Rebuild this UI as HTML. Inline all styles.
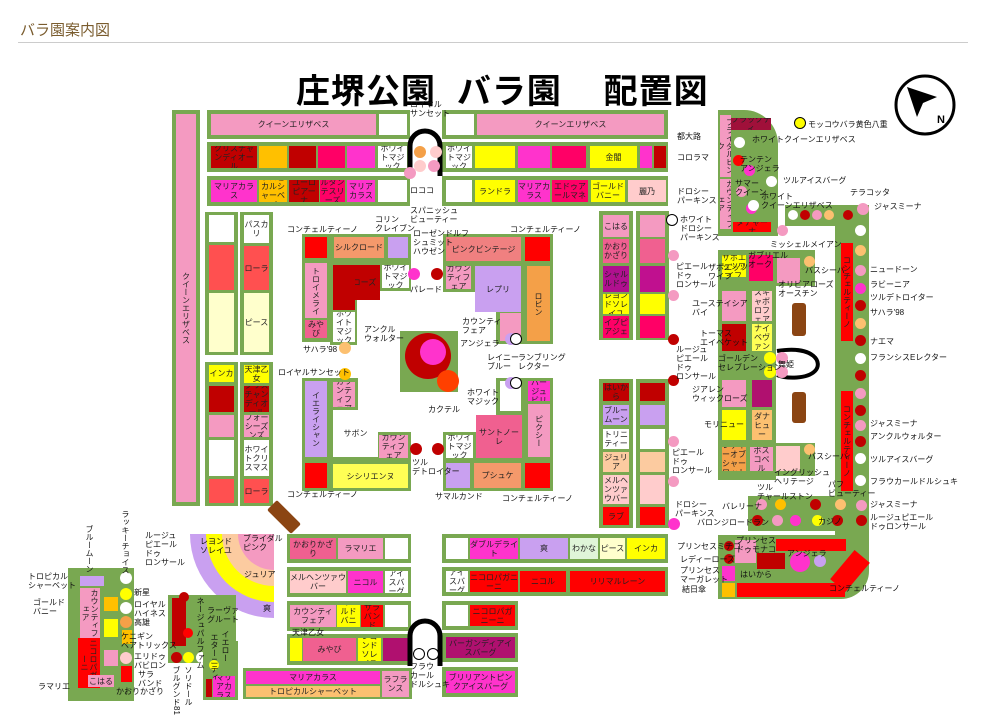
<!DOCTYPE html><html><head><meta charset="utf-8"><style>
body{margin:0;width:987px;height:724px;background:#fff;position:relative;overflow:hidden;font-family:"Liberation Sans","Noto Sans CJK JP",sans-serif}
div{position:absolute;box-sizing:border-box}
.g{background:#79a851}
.b{display:flex;align-items:center;justify-content:center;text-align:center;font-size:8px;line-height:9px;color:#222;overflow:hidden}
.v{writing-mode:vertical-rl}
.t{font-size:8px;line-height:9px;color:#111;white-space:nowrap}
.c{border-radius:50%}
</style></head><body>
<div style="left:20px;top:19px;font-size:15px;color:#7a5c2e">バラ園案内図</div>
<div style="left:18px;top:42px;width:950px;height:1px;background:#ccc"></div>
<div style="left:296px;top:64px;font-size:34px;font-weight:bold;color:#000;white-space:nowrap;letter-spacing:1px">庄堺公園&nbsp; バラ園&nbsp;&nbsp;&nbsp; 配置図</div>
<svg style="position:absolute;left:893px;top:73px" width="64" height="64"><circle cx="32" cy="32" r="29" fill="#fff" stroke="#000" stroke-width="3"/><polygon points="14,14 44,24 30,30 24,44" fill="#000"/><text x="44" y="50" font-size="11" font-weight="bold">N</text></svg>

<!-- left long column -->
<div class="g" style="left:172px;top:110px;width:28px;height:396px"></div>
<div class="b v" style="left:176px;top:114px;width:20px;height:388px;background:#f49ac1">クイーンエリザベス</div>
<!-- top rows -->
<div class="g" style="left:207px;top:110px;width:203px;height:29px"></div>
<div class="b" style="left:211px;top:114px;width:165px;height:21px;background:#f49ac1">クイーンエリザベス</div>
<div class="b" style="left:379px;top:114px;width:28px;height:21px;background:#fff"></div>
<div class="g" style="left:442px;top:110px;width:226px;height:29px"></div>
<div class="b" style="left:446px;top:114px;width:28px;height:21px;background:#fff"></div>
<div class="b" style="left:477px;top:114px;width:187px;height:21px;background:#f49ac1">クイーンエリザベス</div>

<div class="g" style="left:207px;top:142px;width:203px;height:30px"></div>
<div class="b" style="left:211px;top:146px;width:46px;height:22px;background:#c00000">クリスチャンディオール</div>
<div class="b" style="left:259px;top:146px;width:28px;height:22px;background:#ffc000"></div>
<div class="b" style="left:289px;top:146px;width:27px;height:22px;background:#c00000"></div>
<div class="b" style="left:318px;top:146px;width:27px;height:22px;background:#ff0066"></div>
<div class="b" style="left:347px;top:146px;width:28px;height:22px;background:#ff33cc"></div>
<div class="b" style="left:378px;top:146px;width:29px;height:22px;background:#fff">ホワイトマジック</div>
<div class="g" style="left:442px;top:142px;width:226px;height:30px"></div>
<div class="b" style="left:446px;top:146px;width:26px;height:22px;background:#fff">ホワイトマジック</div>
<div class="b" style="left:475px;top:146px;width:40px;height:22px;background:#ffff00"></div>
<div class="b" style="left:518px;top:146px;width:32px;height:22px;background:#ff33cc"></div>
<div class="b" style="left:552px;top:146px;width:34px;height:22px;background:#ff0066"></div>
<div class="b" style="left:590px;top:146px;width:47px;height:22px;background:#ffff00">金閣</div>
<div class="b" style="left:640px;top:146px;width:12px;height:22px;background:#ff33cc"></div>
<div class="b" style="left:654px;top:146px;width:12px;height:22px;background:#c00000"></div>

<div class="g" style="left:207px;top:176px;width:203px;height:30px"></div>
<div class="b" style="left:211px;top:180px;width:46px;height:22px;background:#ff33cc">マリアカラス</div>
<div class="b" style="left:259px;top:180px;width:28px;height:22px;background:#ffc000">トロピカルシャーベット</div>
<div class="b" style="left:289px;top:180px;width:30px;height:22px;background:#c00000">ユーロピアーナ</div>
<div class="b" style="left:320px;top:180px;width:25px;height:22px;background:#ff0066">ルタンテスリーズ</div>
<div class="b" style="left:347px;top:180px;width:28px;height:22px;background:#ff33cc">マリアカラス</div>
<div class="b" style="left:378px;top:180px;width:29px;height:22px;background:#fff"></div>
<div class="g" style="left:442px;top:176px;width:226px;height:30px"></div>
<div class="b" style="left:446px;top:180px;width:26px;height:22px;background:#fff"></div>
<div class="b" style="left:475px;top:180px;width:40px;height:22px;background:#ffff00">ランドラ</div>
<div class="b" style="left:518px;top:180px;width:32px;height:22px;background:#ff33cc">マリアカラス</div>
<div class="b" style="left:552px;top:180px;width:36px;height:22px;background:#ff0066">エドゥアールマネ</div>
<div class="b" style="left:591px;top:180px;width:34px;height:22px;background:#ffff00">ゴールドバニー</div>
<div class="b" style="left:628px;top:180px;width:38px;height:22px;background:#fcc">麗乃</div>

<!-- left double columns -->
<div class="g" style="left:205px;top:212px;width:33px;height:143px"></div>
<div class="b" style="left:209px;top:215px;width:25px;height:27px;background:#fff"></div>
<div class="b" style="left:209px;top:245px;width:25px;height:45px;background:#ff5050"></div>
<div class="b" style="left:209px;top:293px;width:25px;height:59px;background:#ffffcc"></div>
<div class="g" style="left:240px;top:212px;width:33px;height:143px"></div>
<div class="b" style="left:244px;top:215px;width:25px;height:28px;background:#fff">パスカリ</div>
<div class="b" style="left:244px;top:246px;width:25px;height:44px;background:#ff5050">ローラ</div>
<div class="b" style="left:244px;top:293px;width:25px;height:59px;background:#ffffcc">ピース</div>
<div class="g" style="left:205px;top:362px;width:33px;height:144px"></div>
<div class="b" style="left:209px;top:365px;width:25px;height:17px;background:#ffff00">インカ</div>
<div class="b" style="left:209px;top:386px;width:25px;height:26px;background:#c00000"></div>
<div class="b" style="left:209px;top:415px;width:25px;height:22px;background:#f49ac1"></div>
<div class="b" style="left:209px;top:440px;width:25px;height:36px;background:#fff"></div>
<div class="b" style="left:209px;top:479px;width:25px;height:24px;background:#ff5050"></div>
<div class="g" style="left:240px;top:362px;width:33px;height:144px"></div>
<div class="b" style="left:244px;top:365px;width:25px;height:18px;background:#ffff00">天津乙女</div>
<div class="b" style="left:244px;top:386px;width:25px;height:26px;background:#c00000">クリスチャンディオール</div>
<div class="b" style="left:244px;top:415px;width:25px;height:22px;background:#f49ac1">フォーシーズンズ</div>
<div class="b" style="left:244px;top:440px;width:25px;height:36px;background:#fff">ホワイトクリスマス</div>
<div class="b" style="left:244px;top:479px;width:25px;height:24px;background:#ff5050">ローラ</div>

<!-- center top-left -->
<div class="g" style="left:302px;top:234px;width:109px;height:27px"></div>
<div class="g" style="left:302px;top:234px;width:29px;height:108px"></div>
<div class="g" style="left:330px;top:260px;width:81px;height:31px"></div>
<div class="g" style="left:330px;top:260px;width:27px;height:85px"></div>
<div class="b" style="left:305px;top:237px;width:22px;height:21px;background:#ff0000"></div>
<div class="b" style="left:334px;top:237px;width:50px;height:21px;background:#f4996b">シルクロード</div>
<div class="b" style="left:388px;top:237px;width:20px;height:21px;background:#c9a0f0"></div>
<div class="b v" style="left:305px;top:263px;width:22px;height:55px;background:#f49ac1">トロイメライ</div>
<div class="b" style="left:305px;top:320px;width:22px;height:18px;background:#f06090">みやび</div>
<div class="b" style="left:333px;top:265px;width:47px;height:35px;background:#c00000">マイローズ</div>
<div class="b" style="left:333px;top:265px;width:22px;height:45px;background:#c00000"></div>
<div class="b" style="left:382px;top:265px;width:27px;height:23px;background:#fff">ホワイトマジック</div>
<div class="b" style="left:333px;top:312px;width:22px;height:30px;background:#fff">ホワイトマジック</div>
<!-- center top-right -->
<div class="g" style="left:443px;top:234px;width:110px;height:28px"></div>
<div class="g" style="left:443px;top:262px;width:110px;height:30px"></div>
<div class="g" style="left:496px;top:262px;width:57px;height:82px"></div>
<div class="b" style="left:446px;top:237px;width:75px;height:24px;background:#f08080">ピンクビンテージ</div>
<div class="b" style="left:525px;top:237px;width:25px;height:24px;background:#ff0000"></div>
<div class="b" style="left:446px;top:266px;width:25px;height:23px;background:#f49ac1">カウンティフェア</div>
<div class="b" style="left:475px;top:266px;width:46px;height:46px;background:#c9a0f0">レプリ</div>
<div class="b" style="left:500px;top:313px;width:21px;height:28px;background:#f49ac1"></div>
<div class="b v" style="left:527px;top:266px;width:23px;height:75px;background:#f4a048">ロビン</div>
<!-- center circle -->
<div class="g" style="left:400px;top:331px;width:58px;height:61px"></div>
<div class="c" style="left:405px;top:333px;width:46px;height:46px;background:#c00000"></div>
<div class="c" style="left:420px;top:339px;width:26px;height:26px;background:#ff33cc"></div>
<div class="c" style="left:437px;top:370px;width:22px;height:22px;background:#ff4000"></div>
<!-- center bottom-left -->
<div class="g" style="left:302px;top:378px;width:29px;height:113px"></div>
<div class="g" style="left:302px;top:460px;width:109px;height:31px"></div>
<div class="g" style="left:330px;top:378px;width:28px;height:85px"></div>
<div class="g" style="left:330px;top:432px;width:81px;height:30px"></div>
<div class="b v" style="left:305px;top:381px;width:22px;height:76px;background:#c9a0f0">イエライシャン</div>
<div class="b" style="left:333px;top:382px;width:22px;height:25px;background:#f49ac1">カウンティフェア</div>
<div class="b" style="left:333px;top:410px;width:45px;height:47px;background:#fff">サボン</div>
<div class="b" style="left:379px;top:435px;width:29px;height:23px;background:#f49ac1">カウンティフェア</div>
<div class="b" style="left:305px;top:463px;width:22px;height:25px;background:#ff0000"></div>
<div class="b" style="left:333px;top:464px;width:75px;height:24px;background:#ffff55">シシリエンヌ</div>
<!-- center bottom-right -->
<div class="g" style="left:443px;top:432px;width:110px;height:59px"></div>
<div class="g" style="left:496px;top:378px;width:57px;height:60px"></div>
<div class="b" style="left:446px;top:435px;width:27px;height:23px;background:#fff">ホワイトマジック</div>
<div class="b" style="left:500px;top:381px;width:21px;height:30px;background:#fff"></div>
<div class="b" style="left:476px;top:415px;width:46px;height:43px;background:#f06090">サントノーレ</div>
<div class="b" style="left:528px;top:381px;width:22px;height:20px;background:#ff33cc">シルバージュビリー</div>
<div class="b v" style="left:528px;top:404px;width:22px;height:53px;background:#f49ac1">ピクシー</div>
<div class="b" style="left:446px;top:463px;width:24px;height:25px;background:#c9a0f0"></div>
<div class="b" style="left:474px;top:463px;width:47px;height:25px;background:#f4996b">プシュケ</div>
<div class="b" style="left:525px;top:463px;width:25px;height:25px;background:#ff0000"></div>

<!-- mid-right columns -->
<div class="g" style="left:599px;top:211px;width:34px;height:129px"></div>
<div class="b" style="left:603px;top:215px;width:26px;height:22px;background:#f49ac1">こはる</div>
<div class="b" style="left:603px;top:239px;width:26px;height:24px;background:#f06090">かおりかざり</div>
<div class="b" style="left:603px;top:266px;width:26px;height:26px;background:#b0108f">シャルルドゥ</div>
<div class="b" style="left:603px;top:294px;width:26px;height:20px;background:#ffff00">レヨンドソレイユ</div>
<div class="b" style="left:603px;top:316px;width:26px;height:22px;background:#ff0066">イブピアジェ</div>
<div class="g" style="left:636px;top:211px;width:33px;height:129px"></div>
<div class="b" style="left:640px;top:215px;width:25px;height:22px;background:#f49ac1"></div>
<div class="b" style="left:640px;top:239px;width:25px;height:24px;background:#f06090"></div>
<div class="b" style="left:640px;top:266px;width:25px;height:26px;background:#c0108f"></div>
<div class="b" style="left:640px;top:294px;width:25px;height:20px;background:#ffff00"></div>
<div class="b" style="left:640px;top:316px;width:25px;height:22px;background:#ff0066"></div>
<div class="g" style="left:599px;top:379px;width:34px;height:149px"></div>
<div class="b" style="left:603px;top:383px;width:26px;height:18px;background:#c00000">はいから</div>
<div class="b" style="left:603px;top:405px;width:26px;height:20px;background:#c9a0f0">ブルームーン</div>
<div class="b" style="left:603px;top:429px;width:26px;height:20px;background:#fff">トリニティー</div>
<div class="b" style="left:603px;top:452px;width:26px;height:20px;background:#fccba0">ジュリア</div>
<div class="b" style="left:603px;top:475px;width:26px;height:29px;background:#fcc">メルヘンツァウバー</div>
<div class="b" style="left:603px;top:507px;width:26px;height:18px;background:#ff0000">ラブ</div>
<div class="g" style="left:636px;top:379px;width:33px;height:149px"></div>
<div class="b" style="left:640px;top:383px;width:25px;height:18px;background:#c00000"></div>
<div class="b" style="left:640px;top:405px;width:25px;height:20px;background:#c9a0f0"></div>
<div class="b" style="left:640px;top:429px;width:25px;height:20px;background:#fff"></div>
<div class="b" style="left:640px;top:452px;width:25px;height:20px;background:#fccba0"></div>
<div class="b" style="left:640px;top:475px;width:25px;height:29px;background:#fcc"></div>
<div class="b" style="left:640px;top:507px;width:25px;height:18px;background:#ff0000"></div>

<!-- right area -->
<div class="g" style="left:718px;top:110px;width:60px;height:126px;border-top-right-radius:34px"></div>
<div class="b v" style="left:720px;top:115px;width:11px;height:62px;background:#f49ac1">ブライダルピンク</div>
<div class="b v" style="left:720px;top:179px;width:11px;height:50px;background:#f49ac1">カウンティフェア</div>
<div class="b" style="left:731px;top:118px;width:40px;height:12px;background:#a0103a">ブラックティ</div>
<div class="b" style="left:733px;top:222px;width:38px;height:10px;background:#ff0000">タチャーナ</div>
<div class="g" style="left:785px;top:205px;width:84px;height:21px"></div>
<div class="g" style="left:835px;top:205px;width:34px;height:330px"></div>
<div class="b v" style="left:841px;top:243px;width:12px;height:98px;background:#ff0000">コンチェルティーノ</div>
<div class="b v" style="left:841px;top:391px;width:12px;height:100px;background:#ff0000">コンチェルティーノ</div>
<div class="g" style="left:718px;top:250px;width:97px;height:36px"></div>
<div class="g" style="left:718px;top:280px;width:58px;height:200px"></div>
<div class="g" style="left:718px;top:443px;width:97px;height:33px"></div>
<div class="b" style="left:722px;top:255px;width:24px;height:22px;background:#ffff00">ザポエッツワイフ</div>
<div class="b" style="left:749px;top:255px;width:24px;height:26px;background:#ff0066"></div>
<div class="b" style="left:777px;top:258px;width:23px;height:25px;background:#f49ac1"></div>
<div class="b" style="left:722px;top:291px;width:24px;height:30px;background:#f49ac1"></div>
<div class="b" style="left:752px;top:291px;width:20px;height:30px;background:#fcc">スキャボロフェア</div>
<div class="b" style="left:722px;top:324px;width:24px;height:27px;background:#c00000"></div>
<div class="b" style="left:752px;top:324px;width:20px;height:27px;background:#ffff55">ナイベヴァン</div>
<div class="b" style="left:722px;top:380px;width:24px;height:27px;background:#f49ac1"></div>
<div class="b" style="left:752px;top:380px;width:20px;height:27px;background:#b0106f"></div>
<div class="b" style="left:722px;top:410px;width:24px;height:30px;background:#ffff00"></div>
<div class="b" style="left:752px;top:410px;width:20px;height:30px;background:#fcc070">ダナヒュー</div>
<div class="b" style="left:722px;top:447px;width:24px;height:24px;background:#f4a048">レディーオブシャーロット</div>
<div class="b" style="left:750px;top:447px;width:23px;height:24px;background:#f49ac1">ボスコベル</div>
<div class="b" style="left:776px;top:446px;width:24px;height:25px;background:#fcc"></div>
<div style="left:792px;top:303px;width:14px;height:33px;background:#8b4513;border-radius:3px"></div>
<div style="left:792px;top:392px;width:14px;height:31px;background:#8b4513;border-radius:3px"></div>
<div class="g" style="left:748px;top:496px;width:121px;height:35px"></div>
<div class="g" style="left:718px;top:535px;width:151px;height:64px;border-bottom-right-radius:28px"></div>
<div class="b" style="left:735px;top:540px;width:21px;height:23px;background:#f49ac1"></div>
<div class="b" style="left:776px;top:539px;width:70px;height:12px;background:#ff0000"></div>
<div class="b" style="left:757px;top:553px;width:28px;height:16px;background:#c00000"></div>
<div class="c" style="left:790px;top:552px;width:20px;height:20px;background:#ff33cc"></div>
<div class="c" style="left:814px;top:555px;width:12px;height:12px;background:#c9a0f0"></div>
<div style="left:840px;top:552px;width:20px;height:38px;background:#ff0000;transform:rotate(40deg)"></div>
<div class="b" style="left:722px;top:566px;width:13px;height:15px;background:#ff33cc"></div>
<div class="b" style="left:722px;top:583px;width:13px;height:14px;background:#ffc000"></div>
<div class="b" style="left:737px;top:583px;width:108px;height:14px;background:#ff0000"></div>

<!-- bottom middle -->
<div class="g" style="left:442px;top:534px;width:226px;height:29px"></div>
<div class="b" style="left:446px;top:538px;width:22px;height:21px;background:#fff"></div>
<div class="b" style="left:470px;top:538px;width:48px;height:21px;background:#ff33cc">ダブルデライト</div>
<div class="b" style="left:520px;top:538px;width:48px;height:21px;background:#c9a0f0">爽</div>
<div class="b" style="left:570px;top:538px;width:28px;height:21px;background:#dff5d8">わかな</div>
<div class="b" style="left:600px;top:538px;width:25px;height:21px;background:#ffffcc">ピース</div>
<div class="b" style="left:627px;top:538px;width:38px;height:21px;background:#ffff00">インカ</div>
<div class="g" style="left:442px;top:567px;width:226px;height:29px"></div>
<div class="b" style="left:446px;top:571px;width:22px;height:21px;background:#fff">アイスバーグ</div>
<div class="b" style="left:470px;top:571px;width:48px;height:21px;background:#ff0000">ニコロパガニーニ</div>
<div class="b" style="left:520px;top:571px;width:46px;height:21px;background:#ff0000">ニコル</div>
<div class="b" style="left:570px;top:571px;width:95px;height:21px;background:#ff0000">リリマルレーン</div>
<div class="g" style="left:442px;top:601px;width:76px;height:29px"></div>
<div class="b" style="left:446px;top:605px;width:22px;height:21px;background:#fff"></div>
<div class="b" style="left:470px;top:605px;width:45px;height:21px;background:#ff0000">ニコロパガニーニ</div>
<div class="g" style="left:442px;top:633px;width:76px;height:29px"></div>
<div class="b" style="left:446px;top:637px;width:69px;height:21px;background:#b0106f">バーガンディアイスバーグ</div>
<div class="g" style="left:442px;top:667px;width:76px;height:30px"></div>
<div class="b" style="left:446px;top:671px;width:69px;height:22px;background:#ff33cc">ブリリアントピンクアイスバーグ</div>

<div class="g" style="left:287px;top:534px;width:124px;height:29px"></div>
<div class="b" style="left:290px;top:538px;width:46px;height:21px;background:#f06090">かおりかざり</div>
<div class="b" style="left:338px;top:538px;width:45px;height:21px;background:#f49ac1">ラマリエ</div>
<div class="b" style="left:385px;top:538px;width:23px;height:21px;background:#fff"></div>
<div class="g" style="left:287px;top:567px;width:124px;height:30px"></div>
<div class="b" style="left:290px;top:571px;width:56px;height:22px;background:#fcc">メルヘンツァウバー</div>
<div class="b" style="left:348px;top:571px;width:35px;height:22px;background:#ff33cc">ニコル</div>
<div class="b" style="left:385px;top:571px;width:23px;height:22px;background:#fff">アイスバーグ</div>
<div class="g" style="left:287px;top:601px;width:124px;height:30px"></div>
<div class="b" style="left:290px;top:605px;width:46px;height:22px;background:#f49ac1">カウンティフェア</div>
<div class="b" style="left:337px;top:605px;width:23px;height:22px;background:#ffff00">ゴールドバニー</div>
<div class="b" style="left:361px;top:605px;width:22px;height:22px;background:#ff0000">サラバンド</div>
<div class="b" style="left:385px;top:605px;width:23px;height:22px;background:#fff"></div>
<div class="g" style="left:287px;top:634px;width:124px;height:31px"></div>
<div class="b" style="left:290px;top:638px;width:12px;height:23px;background:#ffff00"></div>
<div class="b" style="left:303px;top:638px;width:53px;height:23px;background:#f06090">みやび</div>
<div class="b" style="left:358px;top:638px;width:23px;height:23px;background:#ffff00">レヨンドソレイユ</div>
<div class="b" style="left:383px;top:638px;width:25px;height:23px;background:#b0106f"></div>
<div class="g" style="left:243px;top:668px;width:169px;height:31px"></div>
<div class="b" style="left:246px;top:671px;width:134px;height:13px;background:#ff33cc">マリアカラス</div>
<div class="b" style="left:246px;top:686px;width:134px;height:11px;background:#fcc070">トロピカルシャーベット</div>
<div class="b" style="left:382px;top:671px;width:27px;height:26px;background:#f49ac1">ラフランス</div>

<!-- fan -->
<svg style="position:absolute;left:190px;top:530px" width="90" height="90">
<path d="M84,4 L84,88 A84,84 0 0 1 0,4 Z" fill="#c9a0f0"/>
<path d="M84,4 L84,72 A68,68 0 0 1 16,4 Z" fill="#ffff00"/>
<path d="M84,4 L84,56 A52,52 0 0 1 32,4 Z" fill="#fccba0"/>
<path d="M84,4 L84,40 A36,36 0 0 1 48,4 Z" fill="#f49ac1"/>
</svg>
<div style="left:267px;top:510px;width:34px;height:14px;background:#8b4513;transform:rotate(45deg);border-radius:2px"></div>

<!-- left bottom -->
<div class="g" style="left:68px;top:568px;width:66px;height:133px"></div>
<div class="b" style="left:80px;top:576px;width:24px;height:10px;background:#c9a0f0"></div>
<div class="b v" style="left:80px;top:588px;width:20px;height:50px;background:#f49ac1">カウンティフェア</div>
<div class="b v" style="left:78px;top:638px;width:22px;height:50px;background:#ff0000">ニコロパガニーニ</div>
<div class="b" style="left:88px;top:675px;width:26px;height:12px;background:#f49ac1">こはる</div>
<div class="b" style="left:104px;top:597px;width:14px;height:14px;background:#ffc000"></div>
<div class="b" style="left:104px;top:619px;width:14px;height:18px;background:#ffff00"></div>
<div class="b" style="left:104px;top:650px;width:14px;height:16px;background:#f49ac1"></div>
<div class="c" style="left:120px;top:572px;width:12px;height:12px;background:#fff"></div>
<div class="c" style="left:120px;top:588px;width:12px;height:12px;background:#ffff00"></div>
<div class="c" style="left:120px;top:602px;width:12px;height:12px;background:#fff"></div>
<div class="c" style="left:120px;top:616px;width:12px;height:12px;background:#f4a048"></div>
<div class="b" style="left:122px;top:630px;width:10px;height:14px;background:#ffc000"></div>
<div class="c" style="left:120px;top:652px;width:12px;height:12px;background:#fcc"></div>
<div class="b" style="left:121px;top:666px;width:11px;height:16px;background:#ff0000"></div>
<div class="g" style="left:168px;top:595px;width:68px;height:68px"></div>
<div class="b v" style="left:172px;top:598px;width:14px;height:48px;background:#c00000"></div>
<div class="c" style="left:171px;top:652px;width:11px;height:11px;background:#c00000"></div>
<div class="c" style="left:183px;top:652px;width:11px;height:11px;background:#ffff00"></div>
<div class="c" style="left:196px;top:652px;width:11px;height:11px;background:#fff"></div>
<div class="g" style="left:203px;top:641px;width:35px;height:59px"></div>
<div class="b" style="left:213px;top:676px;width:22px;height:21px;background:#ff33cc">マリアカラス</div>
<div class="b" style="left:206px;top:679px;width:6px;height:18px;background:#c00000"></div>

<!-- arches -->
<svg style="position:absolute;left:405px;top:118px" width="40" height="60"><path d="M5,58 L5,28 A15,15 0 0 1 35,28 L35,58" fill="none" stroke="#000" stroke-width="5"/></svg>
<svg style="position:absolute;left:405px;top:608px" width="40" height="60"><path d="M5,58 L5,28 A15,15 0 0 1 35,28 L35,58" fill="none" stroke="#000" stroke-width="5"/></svg>
<svg style="position:absolute;left:775px;top:345px" width="50" height="38"><path d="M2,6 C40,0 48,18 40,26 C32,34 12,34 2,30" fill="none" stroke="#000" stroke-width="4"/></svg>

<!-- scattered circles -->
<div class="c" style="left:414px;top:146px;width:12px;height:12px;background:#f4a048"></div>
<div class="c" style="left:430px;top:146px;width:12px;height:12px;background:#fcc"></div>
<div class="c" style="left:414px;top:160px;width:12px;height:12px;background:#fcc"></div>
<div class="c" style="left:428px;top:160px;width:12px;height:12px;background:#f49ac1"></div>
<div class="c" style="left:404px;top:167px;width:12px;height:12px;background:#f49ac1"></div>
<div class="c" style="left:408px;top:268px;width:12px;height:12px;background:#ff33cc"></div>
<div class="c" style="left:431px;top:268px;width:12px;height:12px;background:#c00000"></div>
<div class="c" style="left:339px;top:342px;width:12px;height:12px;background:#fcc070"></div>
<div class="c" style="left:339px;top:368px;width:12px;height:12px;background:#ffc000"></div>
<div class="c" style="left:505px;top:333px;width:12px;height:12px;background:#c9a0f0"></div>
<div class="c" style="left:510px;top:333px;width:12px;height:12px;background:#fff;border:1.5px solid #000"></div>
<div class="c" style="left:505px;top:377px;width:12px;height:12px;background:#c9a0f0"></div>
<div class="c" style="left:510px;top:377px;width:12px;height:12px;background:#fff;border:1.5px solid #000"></div>
<div class="c" style="left:410px;top:443px;width:12px;height:12px;background:#c00000"></div>
<div class="c" style="left:432px;top:443px;width:12px;height:12px;background:#c00000"></div>
<div class="c" style="left:666px;top:214px;width:12px;height:12px;background:#fff;border:1.5px solid #000"></div>
<div class="c" style="left:668px;top:250px;width:11px;height:11px;background:#f49ac1"></div>
<div class="c" style="left:668px;top:290px;width:11px;height:11px;background:#f49ac1"></div>
<div class="c" style="left:668px;top:334px;width:11px;height:11px;background:#c00000"></div>
<div class="c" style="left:668px;top:375px;width:11px;height:11px;background:#c00000"></div>
<div class="c" style="left:668px;top:436px;width:11px;height:11px;background:#f49ac1"></div>
<div class="c" style="left:668px;top:476px;width:11px;height:11px;background:#f49ac1"></div>
<div class="c" style="left:668px;top:518px;width:12px;height:12px;background:#ff33cc"></div>
<div class="c" style="left:794px;top:117px;width:12px;height:12px;background:#ffff00;border:1.5px solid #000"></div>
<div class="c" style="left:734px;top:137px;width:11px;height:11px;background:#fff"></div>
<div class="c" style="left:733px;top:155px;width:11px;height:11px;background:#ff0000"></div>
<div class="c" style="left:744px;top:165px;width:11px;height:11px;background:#ff33cc"></div>
<div class="c" style="left:766px;top:176px;width:11px;height:11px;background:#fff"></div>
<div class="c" style="left:736px;top:186px;width:11px;height:11px;background:#f49ac1"></div>
<div class="c" style="left:746px;top:203px;width:11px;height:11px;background:#ff33cc"></div>
<div class="c" style="left:748px;top:200px;width:11px;height:11px;background:#fff"></div>
<div class="c" style="left:777px;top:225px;width:11px;height:11px;background:#f49ac1"></div>
<div class="c" style="left:788px;top:210px;width:10px;height:10px;background:#fff"></div>
<div class="c" style="left:800px;top:210px;width:10px;height:10px;background:#c00000"></div>
<div class="c" style="left:812px;top:210px;width:10px;height:10px;background:#f49ac1"></div>
<div class="c" style="left:824px;top:210px;width:10px;height:10px;background:#fcc070"></div>
<div class="c" style="left:843px;top:210px;width:10px;height:10px;background:#c00000"></div>
<div class="c" style="left:857px;top:203px;width:12px;height:12px;background:#f49ac1"></div>
<div class="c" style="left:855px;top:225px;width:11px;height:11px;background:#fff"></div>
<div class="c" style="left:855px;top:245px;width:11px;height:11px;background:#fcc070"></div>
<div class="c" style="left:855px;top:265px;width:11px;height:11px;background:#f49ac1"></div>
<div class="c" style="left:855px;top:283px;width:11px;height:11px;background:#ff33cc"></div>
<div class="c" style="left:855px;top:300px;width:11px;height:11px;background:#c00000"></div>
<div class="c" style="left:855px;top:318px;width:11px;height:11px;background:#fcc070"></div>
<div class="c" style="left:855px;top:335px;width:11px;height:11px;background:#c00000"></div>
<div class="c" style="left:855px;top:353px;width:11px;height:11px;background:#fff"></div>
<div class="c" style="left:855px;top:370px;width:11px;height:11px;background:#c00000"></div>
<div class="c" style="left:855px;top:388px;width:11px;height:11px;background:#f49ac1"></div>
<div class="c" style="left:855px;top:405px;width:11px;height:11px;background:#c00000"></div>
<div class="c" style="left:855px;top:420px;width:11px;height:11px;background:#f49ac1"></div>
<div class="c" style="left:855px;top:436px;width:11px;height:11px;background:#c00000"></div>
<div class="c" style="left:855px;top:453px;width:11px;height:11px;background:#fff"></div>
<div class="c" style="left:855px;top:475px;width:11px;height:11px;background:#fff"></div>
<div class="c" style="left:856px;top:500px;width:11px;height:11px;background:#f49ac1"></div>
<div class="c" style="left:856px;top:515px;width:11px;height:11px;background:#c00000"></div>
<div class="c" style="left:756px;top:499px;width:11px;height:11px;background:#f49ac1"></div>
<div class="c" style="left:775px;top:499px;width:11px;height:11px;background:#ffc000"></div>
<div class="c" style="left:810px;top:499px;width:11px;height:11px;background:#c00000"></div>
<div class="c" style="left:835px;top:499px;width:11px;height:11px;background:#fcc070"></div>
<div class="c" style="left:752px;top:515px;width:11px;height:11px;background:#c00000"></div>
<div class="c" style="left:772px;top:515px;width:11px;height:11px;background:#f49ac1"></div>
<div class="c" style="left:790px;top:515px;width:11px;height:11px;background:#ff33cc"></div>
<div class="c" style="left:812px;top:515px;width:11px;height:11px;background:#ffff00"></div>
<div class="c" style="left:832px;top:515px;width:11px;height:11px;background:#c00000"></div>
<div class="c" style="left:764px;top:352px;width:12px;height:12px;background:#ffff00"></div>
<div class="c" style="left:776px;top:352px;width:12px;height:12px;background:#f49ac1"></div>
<div class="c" style="left:764px;top:366px;width:12px;height:12px;background:#ffff00"></div>
<div class="c" style="left:776px;top:366px;width:12px;height:12px;background:#f49ac1"></div>
<div class="c" style="left:804px;top:256px;width:11px;height:11px;background:#fcc070"></div>
<div class="c" style="left:804px;top:444px;width:11px;height:11px;background:#fcc070"></div>
<div class="c" style="left:724px;top:541px;width:10px;height:10px;background:#c00000"></div>
<div class="c" style="left:724px;top:554px;width:10px;height:10px;background:#c00000"></div>
<div class="c" style="left:183px;top:628px;width:10px;height:10px;background:#ff0000"></div>
<div class="c" style="left:179px;top:592px;width:10px;height:10px;background:#c00000"></div>
<div class="c" style="left:209px;top:660px;width:10px;height:10px;background:#ffff00"></div>
<div class="c" style="left:413px;top:648px;width:12px;height:12px;background:#fff;border:1.5px solid #000"></div>
<div class="c" style="left:427px;top:648px;width:12px;height:12px;background:#fff;border:1.5px solid #000"></div>

<!-- labels -->
<div class="t" style="left:410px;top:100px">ロイヤル<br>サンセット</div>
<div class="t" style="left:410px;top:186px">ロココ</div>
<div class="t" style="left:410px;top:206px">スパニッシュ<br>ビューティー</div>
<div class="t" style="left:375px;top:215px">コリン<br>クレイブン</div>
<div class="t" style="left:287px;top:225px">コンチェルティーノ</div>
<div class="t" style="left:510px;top:225px">コンチェルティーノ</div>
<div class="t" style="left:413px;top:229px">ローゼンドルフ<br>シュミット<br>ハウゼン</div>
<div class="t" style="left:410px;top:285px">パレード</div>
<div class="t" style="left:364px;top:325px">アンクル<br>ウォルター</div>
<div class="t" style="left:460px;top:339px">アンジェラ</div>
<div class="t" style="left:462px;top:317px">カウンティ<br>フェア</div>
<div class="t" style="left:487px;top:353px">レイニー<br>ブルー</div>
<div class="t" style="left:518px;top:353px">ランブリング<br>レクター</div>
<div class="t" style="left:303px;top:345px">サハラ'98</div>
<div class="t" style="left:278px;top:368px">ロイヤルサンセット</div>
<div class="t" style="left:428px;top:405px">カクテル</div>
<div class="t" style="left:467px;top:388px">ホワイト<br>マジック</div>
<div class="t" style="left:412px;top:458px">ツル<br>デトロイター</div>
<div class="t" style="left:287px;top:490px">コンチェルティーノ</div>
<div class="t" style="left:435px;top:492px">サマルカンド</div>
<div class="t" style="left:502px;top:494px">コンチェルティーノ</div>
<div class="t" style="left:677px;top:132px">都大路</div>
<div class="t" style="left:677px;top:153px">コロラマ</div>
<div class="t" style="left:677px;top:187px">ドロシー<br>パーキンス</div>
<div class="t" style="left:680px;top:215px">ホワイト<br>ドロシー<br>パーキンス</div>
<div class="t" style="left:808px;top:120px">モッコウバラ黄色八重</div>
<div class="t" style="left:752px;top:135px">ホワイトクイーンエリザベス</div>
<div class="t" style="left:740px;top:155px">テンテン<br>アンジェラ</div>
<div class="t" style="left:783px;top:176px">ツルアイスバーグ</div>
<div class="t" style="left:735px;top:179px">サマー<br>クイーン</div>
<div class="t" style="left:761px;top:192px">ホワイト<br>クイーンエリザベス</div>
<div class="t" style="left:850px;top:188px">テラコッタ</div>
<div class="t" style="left:874px;top:202px">ジャスミーナ</div>
<div class="t" style="left:770px;top:240px">ミッシェルメイアン</div>
<div class="t" style="left:748px;top:251px">ガブリエル<br>オーク</div>
<div class="t" style="left:805px;top:266px">バスシーバ</div>
<div class="t" style="left:778px;top:280px">オリビアローズ<br>オースチン</div>
<div class="t" style="left:708px;top:263px">ザポエッツ<br>ワイフ</div>
<div class="t" style="left:692px;top:299px">ユーステイシア<br>バイ</div>
<div class="t" style="left:700px;top:329px">トーマス<br>エイベケット</div>
<div class="t" style="left:718px;top:354px">ゴールデン<br>セレブレーション</div>
<div class="t" style="left:778px;top:360px">舞姫</div>
<div class="t" style="left:676px;top:262px">ピエール<br>ドゥ<br>ロンサール</div>
<div class="t" style="left:676px;top:345px">ルージュ<br>ピエール<br>ドゥ<br>ロンサール</div>
<div class="t" style="left:692px;top:385px">ジアレン<br>ウィックローズ</div>
<div class="t" style="left:704px;top:420px">モリニュー</div>
<div class="t" style="left:672px;top:448px">ピエール<br>ドゥ<br>ロンサール</div>
<div class="t" style="left:675px;top:500px">ドロシー<br>パーキンス</div>
<div class="t" style="left:808px;top:452px">バスシーバ</div>
<div class="t" style="left:774px;top:468px">イングリッシュ<br>ヘリテージ</div>
<div class="t" style="left:757px;top:483px">ツル<br>チャールストン</div>
<div class="t" style="left:828px;top:480px">パフ<br>ビューティー</div>
<div class="t" style="left:722px;top:502px">バレリーナ</div>
<div class="t" style="left:697px;top:518px">バロンジロードラン</div>
<div class="t" style="left:818px;top:517px">カジノ</div>
<div class="t" style="left:677px;top:542px">プリンセスミチコ</div>
<div class="t" style="left:736px;top:536px">プリンセス<br>ドゥモナコ</div>
<div class="t" style="left:787px;top:549px">アンジェラ</div>
<div class="t" style="left:680px;top:555px">レディーローズ</div>
<div class="t" style="left:680px;top:566px">プリンセス<br>マーガレット</div>
<div class="t" style="left:740px;top:570px">はいから</div>
<div class="t" style="left:682px;top:585px">結日傘</div>
<div class="t" style="left:829px;top:584px">コンチェルティーノ</div>
<div class="t" style="left:870px;top:265px">ニュードーン</div>
<div class="t" style="left:870px;top:280px">ラビーニア</div>
<div class="t" style="left:870px;top:293px">ツルデトロイター</div>
<div class="t" style="left:870px;top:308px">サハラ'98</div>
<div class="t" style="left:870px;top:337px">ナエマ</div>
<div class="t" style="left:870px;top:353px">フランシスEレクター</div>
<div class="t" style="left:870px;top:419px">ジャスミーナ</div>
<div class="t" style="left:870px;top:432px">アンクルウォルター</div>
<div class="t" style="left:870px;top:455px">ツルアイスバーグ</div>
<div class="t" style="left:870px;top:477px">フラウカールドルシュキ</div>
<div class="t" style="left:870px;top:500px">ジャスミーナ</div>
<div class="t" style="left:870px;top:513px">ルージュピエール<br>ドゥロンサール</div>
<div class="t v" style="left:85px;top:525px">ブルームーン</div>
<div class="t v" style="left:121px;top:510px">ラッキーチョイス</div>
<div class="t" style="left:28px;top:572px">トロピカル<br>シャーベット</div>
<div class="t" style="left:33px;top:598px">ゴールド<br>バニー</div>
<div class="t" style="left:38px;top:682px">ラマリエ</div>
<div class="t" style="left:134px;top:588px">新星</div>
<div class="t" style="left:134px;top:600px">ロイヤル<br>ハイネス</div>
<div class="t" style="left:134px;top:618px">高雄</div>
<div class="t" style="left:121px;top:632px">ケニギン<br>ベアトリックス</div>
<div class="t" style="left:134px;top:652px">エリドゥ<br>バビロン</div>
<div class="t" style="left:138px;top:670px">サラ<br>バンド</div>
<div class="t" style="left:116px;top:687px">かおりかざり</div>
<div class="t" style="left:145px;top:531px">ルージュ<br>ピエール<br>ドゥ<br>ロンサール</div>
<div class="t" style="left:200px;top:537px">レヨンド<br>ソレイユ</div>
<div class="t" style="left:243px;top:534px">ブライダル<br>ピンク</div>
<div class="t" style="left:244px;top:570px">ジュリア</div>
<div class="t" style="left:263px;top:604px">爽</div>
<div class="t" style="left:207px;top:606px">ラーヴァ<br>グルート</div>
<div class="t v" style="left:196px;top:597px">ネージュパルファム</div>
<div class="t v" style="left:210px;top:633px">エターニティ</div>
<div class="t v" style="left:221px;top:630px">イエロー</div>
<div class="t v" style="left:172px;top:666px">ブルグンド81</div>
<div class="t v" style="left:184px;top:666px">ソリドール</div>
<div class="t" style="left:292px;top:628px">天津乙女</div>
<div class="t" style="left:410px;top:662px">フラウ<br>カール<br>ドルシュキ</div>
</body></html>
